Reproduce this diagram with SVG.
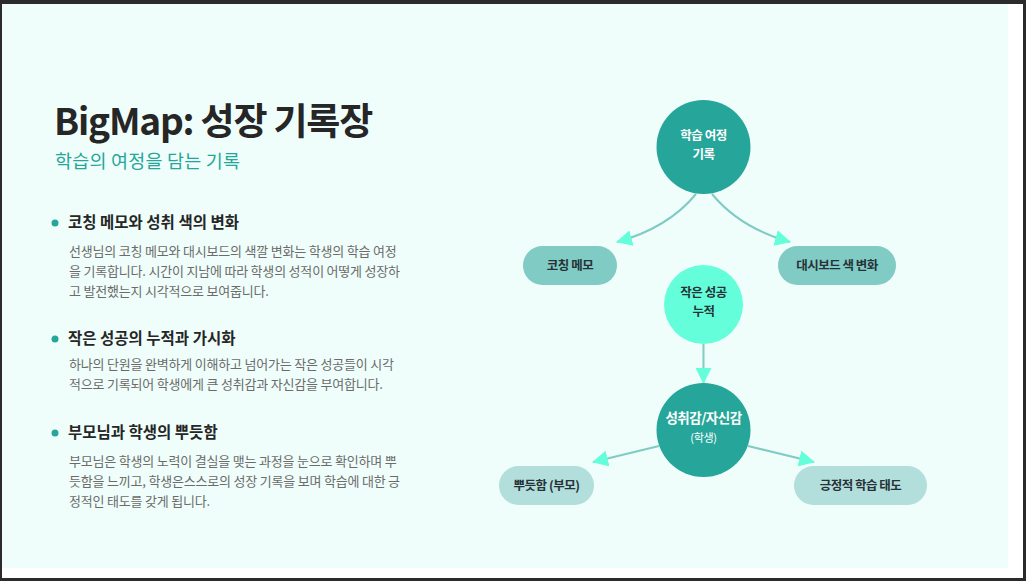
<svg xmlns="http://www.w3.org/2000/svg" width="1026" height="581" viewBox="0 0 1026 581">
<defs>
<style>
.ko{font-family:"Noto Sans CJK KR","Noto Sans",sans-serif}
.title{font-size:37px;font-weight:700;fill:#262626;letter-spacing:-1.2px}
.sub{font-size:18.5px;fill:#26a69a;letter-spacing:0.2px}
.head{font-size:15.5px;font-weight:700;fill:#262626}
.body{font-size:13px;fill:#6b6b6b;letter-spacing:-0.2px}
.nt{font-size:12.5px;font-weight:700;text-anchor:middle;letter-spacing:-0.5px}
.w{fill:#ffffff}
.d{fill:#263238}
.edge{fill:none;stroke:#80cbc4;stroke-width:2}
</style>
<marker id="ah" markerUnits="userSpaceOnUse" markerWidth="16" markerHeight="16" viewBox="0 0 16 16" refX="15" refY="8" orient="auto">
<path d="M0,0 L16,8 L0,16 Z" fill="#64ffda"/>
</marker>
</defs>
<rect x="0" y="0" width="1026" height="581" fill="#2b2b2b"/>
<rect x="2" y="4" width="1021" height="574" fill="#ffffff"/>
<rect x="2" y="4" width="1006" height="564" fill="#effefa"/>

<g id="title">
<text class="ko title" x="54" y="135">BigMap: 성장 기록장</text>
<text class="ko sub" x="55" y="168">학습의 여정을 담는 기록</text>
</g>

<g id="bullet1">
<circle cx="55" cy="223" r="3.5" fill="#26a69a"/>
<text class="ko head" x="68" y="228">코칭 메모와 성취 색의 변화</text>
<text class="ko body" x="69" y="256">선생님의 코칭 메모와 대시보드의 색깔 변화는 학생의 학습 여정</text>
<text class="ko body" x="69" y="276">을 기록합니다. 시간이 지남에 따라 학생의 성적이 어떻게 성장하</text>
<text class="ko body" x="69" y="296">고 발전했는지 시각적으로 보여줍니다.</text>
</g>
<g id="bullet2">
<circle cx="55" cy="339" r="3.5" fill="#26a69a"/>
<text class="ko head" x="68" y="344">작은 성공의 누적과 가시화</text>
<text class="ko body" x="69" y="369">하나의 단원을 완벽하게 이해하고 넘어가는 작은 성공들이 시각</text>
<text class="ko body" x="69" y="389">적으로 기록되어 학생에게 큰 성취감과 자신감을 부여합니다.</text>
</g>
<g id="bullet3">
<circle cx="55" cy="433" r="3.5" fill="#26a69a"/>
<text class="ko head" x="68" y="438">부모님과 학생의 뿌듯함</text>
<text class="ko body" x="69" y="466">부모님은 학생의 노력이 결실을 맺는 과정을 눈으로 확인하며 뿌</text>
<text class="ko body" x="69" y="486">듯함을 느끼고, 학생은스스로의 성장 기록을 보며 학습에 대한 긍</text>
<text class="ko body" x="69" y="506">정적인 태도를 갖게 됩니다.</text>
</g>

<g id="connectors">
<path class="edge" d="M696,194 Q668,228 617,242" marker-end="url(#ah)"/>
<path class="edge" d="M712,194 Q740,228 790,242" marker-end="url(#ah)"/>
<path class="edge" d="M703.5,344 L703.5,383" marker-end="url(#ah)"/>
<path class="edge" d="M659,446 L593,462" marker-end="url(#ah)"/>
<path class="edge" d="M748,446 L814,462" marker-end="url(#ah)"/>
</g>

<g id="node-journey">
<circle cx="703.5" cy="147" r="47" fill="#26a69a"/>
<text class="ko nt w" x="703.5" y="139.5">학습 여정</text>
<text class="ko nt w" x="703.5" y="158.5">기록</text>
</g>
<g id="node-memo">
<rect x="523" y="246" width="94" height="39" rx="19.5" fill="#80cbc4"/>
<text class="ko nt d" x="570" y="270">코칭 메모</text>
</g>
<g id="node-dashboard">
<rect x="778" y="246" width="118" height="39" rx="19.5" fill="#80cbc4"/>
<text class="ko nt d" x="837" y="270">대시보드 색 변화</text>
</g>
<g id="node-success">
<circle cx="703.5" cy="304.5" r="39.5" fill="#64ffda"/>
<text class="ko nt d" x="703.5" y="297">작은 성공</text>
<text class="ko nt d" x="703.5" y="316">누적</text>
</g>
<g id="node-achieve">
<circle cx="703.5" cy="430" r="47" fill="#26a69a"/>
<text class="ko nt w" x="703.5" y="423" style="font-size:13.5px">성취감/자신감</text>
<text class="ko w" x="703.5" y="442" text-anchor="middle" font-size="11" letter-spacing="-0.3">(학생)</text>
</g>
<g id="node-proud">
<rect x="499" y="466" width="95" height="39" rx="19.5" fill="#b2dfdb"/>
<text class="ko nt d" x="546.5" y="490">뿌듯함 (부모)</text>
</g>
<g id="node-attitude">
<rect x="794" y="466" width="133" height="39" rx="19.5" fill="#b2dfdb"/>
<text class="ko nt d" x="860.5" y="490">긍정적 학습 태도</text>
</g>
</svg>
